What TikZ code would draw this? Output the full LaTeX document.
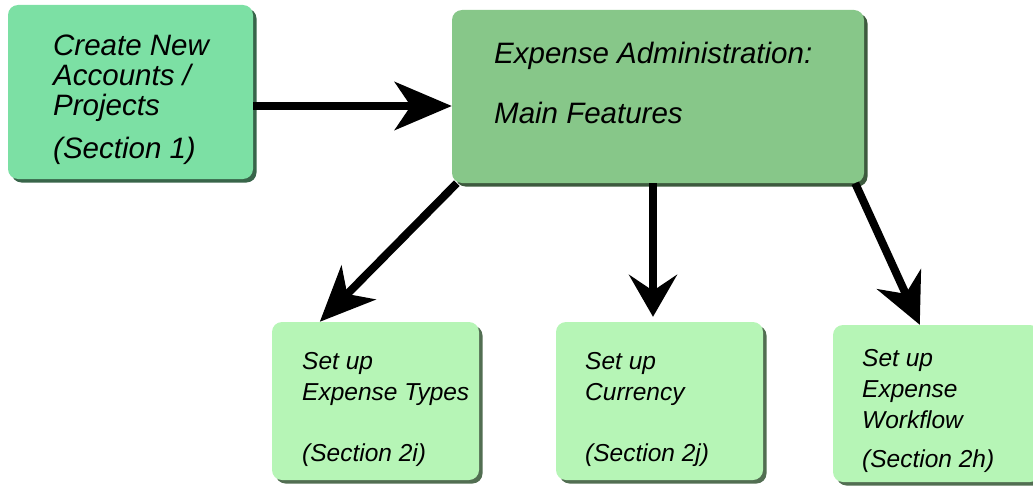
\documentclass[tikz,border=0pt]{standalone}
\usepackage{fontspec}
\setmainfont{Liberation Sans}
\usetikzlibrary{arrows.meta,shadows}
\definecolor{accgreen}{RGB}{124,224,164}
\definecolor{maingreen}{RGB}{135,199,137}
\definecolor{subgreen}{RGB}{182,245,182}
\begin{document}
\begin{tikzpicture}[x=1pt, y=-1pt,
        box/.style = {rounded corners=10pt, inner sep=0pt, fill=#1,
            drop shadow={shadow xshift=3.5pt, shadow yshift=-3.5pt,
                fill=#1!45!black, opacity=1}},
        txt/.style = {anchor=north west, inner sep=0pt, align=left,
            font=\fontsize{29.5}{30}\selectfont\itshape},
        subtxt/.style = {txt, font=\fontsize{24.5}{31}\selectfont\itshape},
        arr/.style = {line width=8pt, -{Stealth[length=#1, width=48pt, inset=16pt]}}
    ]
        \useasboundingbox (0,0) rectangle (1033,487);
        % Boxes
        \node[box=accgreen, minimum width=245pt, minimum height=174pt] (acc) at (130.5,92) {};
        \node[box=maingreen, minimum width=412pt, minimum height=173pt] (main) at (658,96.5) {};
        \node[box=subgreen, minimum width=207pt, minimum height=158pt] (types) at (375.5,401) {};
        \node[box=subgreen, minimum width=207pt, minimum height=158pt] (currency) at (659.5,401) {};
        \node[box=subgreen, minimum width=207pt, minimum height=157pt] (workflow) at (936.5,403.5) {};
        % Texts
        \node[txt] (accT) at (53,35) {Create New\\Accounts /\\Projects\\[13pt](Section 1)};
        \node[txt] (mainT) at (494,42) {Expense Administration:\\[30pt]Main Features};
        \node[subtxt] (typesT) at (302,352) {Set up\\Expense Types\\[30pt](Section 2i)};
        \node[subtxt] (currencyT) at (585,352) {Set up\\Currency\\[30pt](Section 2j)};
        \node[subtxt] (workflowT) at (862,349) {Set up\\Expense\\Workflow\\[8pt](Section 2h)};
        % Arrows
        \draw[arr=57pt] ([yshift=-14pt]acc.east) -- ([yshift=-9.5pt]main.west);
        \draw[arr=55pt] ([xshift=5pt]main.south west) -- ([xshift=48pt]types.north west);
        \draw[arr=42pt] ([xshift=-5pt]main.south) -- ([xshift=-6.5pt, yshift=5pt]currency.north);
        \draw[arr=50pt] ([xshift=-9pt]main.south east) -- ([xshift=87pt]workflow.north west);
    \end{tikzpicture}
\end{document}
